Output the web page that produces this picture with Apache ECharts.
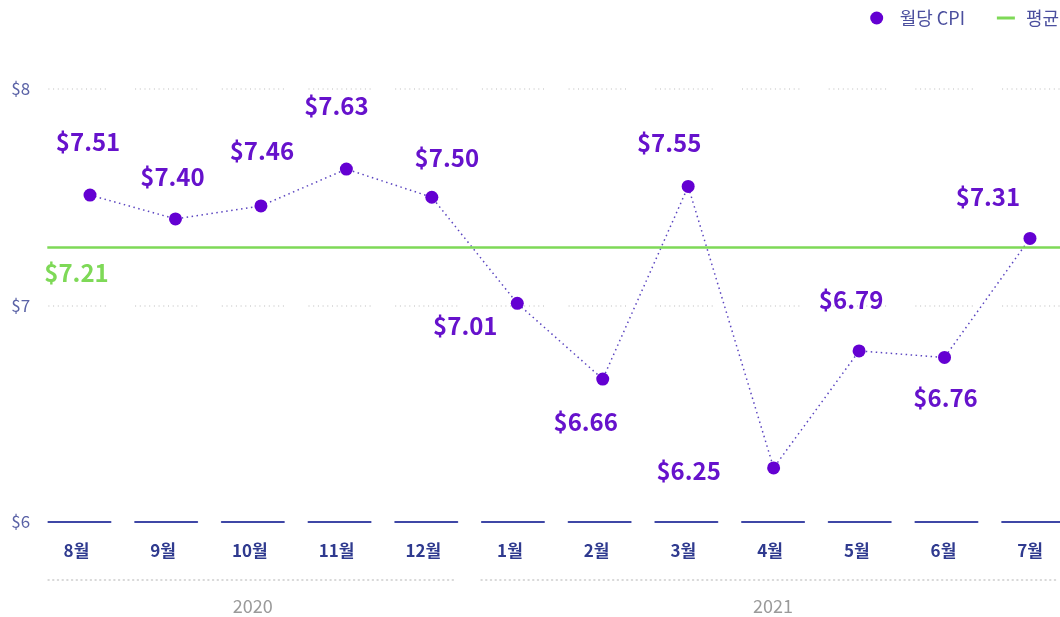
<!DOCTYPE html>
<html>
<head>
<meta charset="utf-8">
<script src="https://cdn.jsdelivr.net/npm/echarts@6/dist/echarts.min.js"></script>
<style>
  html, body { margin: 0; padding: 0; background: #fff; }
  #main { width: 1060px; height: 617px; }
</style>
</head>
<body>
<div id="main"></div>
<script>
// 데이터
var months = ['8월', '9월', '10월', '11월', '12월', '1월', '2월', '3월', '4월', '5월', '6월', '7월'];
var cpi = [7.51, 7.40, 7.46, 7.63, 7.50, 7.01, 6.66, 7.55, 6.25, 6.79, 6.76, 7.31];
var yearLabels = ['', '', '2020', '', '', '', '', '', '2021', '', '', ''];
var avgValue = 7.27;
var avgText = '$7.21';

// 라벨 위치 (점 중심 기준)
var labelOffsets = [[-2, -53], [-3, -42], [1, -55], [-10, -63], [15, -39], [-52, 23],
                    [-17, 43], [-19, -44], [-85, 3], [-8, -51], [1, 40], [-42, -42]];

var FONT = 'Noto Sans CJK KR';
var GRID_LEFT = 36.1, GRID_W = 1040.4;
var BAND = GRID_W / 12;

// 선 패턴 만들기 (첫 구간 시작점 기준, 앞쪽 여백은 dashOffset 으로)
function pattern(segs, solid) {
    var a = [], pos = segs[0][0];
    segs.forEach(function (s) {
        if (a.length) a[a.length - 1] += s[0] - pos;
        if (solid) { a.push(s[1] - s[0], 0); pos = s[1]; }
        else {
            var x = s[0];
            while (x + 1 <= s[1]) { a.push(1, 3.7); x += 4.7; }
            pos = x;
        }
    });
    a[a.length - 1] += 3000;
    return a;
}
var bandSegs = months.map(function (m, k) { return [k * BAND + 12.3, k * BAND + 74.4]; });
var yearSegs = [[12, 418], [445, 1023]];

var chart = echarts.init(document.getElementById('main'));
var option = {
    animation: false,
    textStyle: { fontFamily: FONT },
    legend: [
        {
            right: 90, top: 4,
            itemWidth: 18, itemHeight: 13,
            textStyle: { color: '#4b4f9e', fontSize: 18, fontFamily: FONT, padding: [0, 0, 0, 9] },
            data: [{ name: '월당 CPI', icon: 'circle' }]
        },
        {
            right: -4, top: 4,
            itemWidth: 18, itemHeight: 3,
            textStyle: { color: '#4b4f9e', fontSize: 18, fontFamily: FONT, padding: [0, 0, 0, 6] },
            data: [{ name: '평균', icon: 'rect' }]
        }
    ],
    grid: [
        { left: GRID_LEFT, width: GRID_W, top: 89, bottom: 95, outerBoundsMode: 'none' },
        { left: 47.3, width: 1025.4, top: 89, bottom: 95, outerBoundsMode: 'none' }
    ],
    xAxis: [
        {
            type: 'category', gridIndex: 0, data: months,
            axisLine: { lineStyle: { color: '#3f47a6', width: 2,
                type: pattern(bandSegs, true), dashOffset: -bandSegs[0][0] } },
            axisTick: { show: false },
            axisLabel: { color: '#2f3a8f', fontSize: 17, fontWeight: 'bold', margin: 20,
                fontFamily: FONT, padding: [0, 6, 0, 0] }
        },
        {
            type: 'category', gridIndex: 0, data: yearLabels, position: 'bottom', offset: 58,
            axisLine: { lineStyle: { color: '#cccccc', width: 1.5,
                type: pattern(yearSegs, false), dashOffset: -yearSegs[0][0] } },
            axisTick: { show: false },
            axisLabel: { interval: 0, color: '#9a9a9a', fontSize: 18, margin: 17, fontFamily: FONT }
        },
        { type: 'category', gridIndex: 1, data: months, show: false }
    ],
    yAxis: [
        {
            type: 'value', gridIndex: 0, min: 6, max: 8, interval: 1,
            axisLine: { show: false }, axisTick: { show: false },
            axisLabel: { color: '#5a62a6', fontSize: 17, margin: 6, fontFamily: FONT,
                formatter: function (v) { return '$' + v; } },
            splitLine: { lineStyle: { color: '#d2d2d2', width: 1.5,
                type: pattern(bandSegs, false), dashOffset: -bandSegs[0][0] } }
        },
        { type: 'value', gridIndex: 1, min: 6, max: 8, show: false }
    ],
    series: [
        {
            name: '월당 CPI',
            type: 'line',
            xAxisIndex: 2, yAxisIndex: 1,
            symbol: 'circle', symbolSize: 13,
            itemStyle: { color: '#6400d2' },
            lineStyle: { color: '#5b45c0', width: 1.5, type: [1.5, 3.5] },
            data: cpi.map(function (v, i) {
                return { value: v, label: { offset: labelOffsets[i] } };
            }),
            label: {
                show: true, position: 'inside',
                color: '#6612cc', fontSize: 24, fontWeight: 'bold', fontFamily: FONT,
                formatter: function (p) { return '$' + p.value.toFixed(2); }
            },
            markLine: {
                silent: true, symbol: 'none',
                lineStyle: { color: '#7ed957', width: 2.5, type: 'solid' },
                label: {
                    position: 'insideStartBottom', distance: [-3, 14],
                    formatter: avgText,
                    color: '#7ed957', fontSize: 24, fontWeight: 'bold', fontFamily: FONT
                },
                data: [{ yAxis: avgValue }]
            },
            z: 3
        },
        {
            name: '평균',
            type: 'line',
            xAxisIndex: 2, yAxisIndex: 1,
            symbol: 'none',
            itemStyle: { color: '#7ed957' },
            lineStyle: { color: '#7ed957', width: 3 },
            data: []
        }
    ]
};
chart.setOption(option);
</script>
</body>
</html>
